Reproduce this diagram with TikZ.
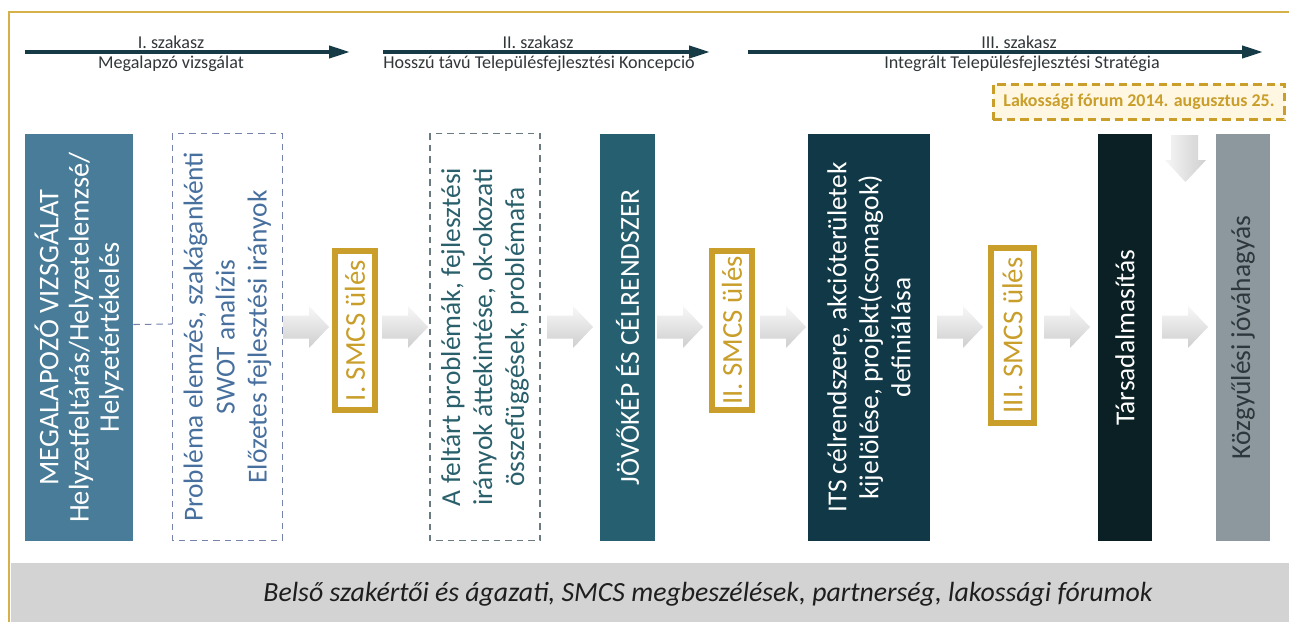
\documentclass[tikz,border=0pt]{standalone}
\usepackage{fontspec}
\setmainfont{Carlito}
\usetikzlibrary{arrows.meta}
\definecolor{framegold}{RGB}{214,176,72}
\definecolor{smcsgold}{RGB}{201,158,42}
\definecolor{lakfill}{RGB}{255,247,226}
\definecolor{phasecol}{RGB}{22,58,70}
\definecolor{cone}{RGB}{72,124,152}
\definecolor{cfour}{RGB}{38,96,112}
\definecolor{cfive}{RGB}{16,56,70}
\definecolor{csix}{RGB}{10,32,36}
\definecolor{cseven}{RGB}{140,152,158}
\definecolor{ctext}{RGB}{45,55,60}
\definecolor{dashblue}{RGB}{118,132,172}
\definecolor{dashgray}{RGB}{105,122,128}
\definecolor{txtblue}{RGB}{72,112,158}
\definecolor{txtteal}{RGB}{42,96,108}
\definecolor{bandgray}{RGB}{211,211,211}
\definecolor{bandtext}{RGB}{30,30,30}
\definecolor{toptext}{RGB}{50,55,58}
\newcommand\garrow[2]{%
  \shade[top color=gray!6, bottom color=gray!38]
    (#1,#2-11.5) -- (#1+26,#2-11.5) -- (#1+26,#2-21) -- (#1+46,#2)
    -- (#1+26,#2+21) -- (#1+26,#2+11.5) -- (#1,#2+11.5) -- cycle;}
\begin{document}
\begin{tikzpicture}[x=0.02cm,y=-0.02cm,
  phase/.style={draw=phasecol, line width=0.08cm, -{Triangle[length=0.42cm,width=0.24cm]}},
  toplbl/.style={font=\fontsize{10.3}{12}\selectfont, text=toptext, inner sep=0},
  vbox/.style={rotate=90, inner sep=0, align=center, font=\fontsize{15.6}{18.2}\selectfont},
  solidbox/.style={vbox, minimum width=8.14cm, text=white},
  dashbox/.style={vbox, minimum width=8.16cm, minimum height=2.19cm, line width=0.6pt, dash pattern=on 0.13cm off 0.1cm},
  smcs/.style={vbox, draw=smcsgold, line width=0.12cm, fill=white, text=smcsgold, minimum height=0.8cm, minimum width=3.18cm, font=\fontsize{16.4}{18}\selectfont},
  conn/.style={draw=dashblue, line width=0.6pt, dash pattern=on 0.13cm off 0.1cm}
]
\useasboundingbox (0,0) rectangle (1289,622);
\fill[white] (0,0) rectangle (1289,622);
% frame
\draw[framegold, line width=0.06cm] (9,622) -- (9,12) -- (1289,12);
% phases
\coordinate (pas) at (25,52);  \coordinate (pae) at (350,52);
\coordinate (pbs) at (383,52); \coordinate (pbe) at (710,52);
\coordinate (pcs) at (748,52); \coordinate (pce) at (1263,52);
\draw[phase] (pas) -- (pae);
\draw[phase] (pbs) -- (pbe);
\draw[phase] (pcs) -- (pce);
\node[toplbl] (la1) at (171,42) {I. szakasz};
\node[toplbl] (la2) at (171,64) {Megalapzó vizsgálat};
\node[toplbl] (lb1) at (538,42) {II. szakasz};
\node[toplbl] (lb2) at (539,64) {Hosszú távú Településfejlesztési Koncepció};
\node[toplbl] (lc1) at (1019,42) {III. szakasz};
\node[toplbl] (lc2) at (1022,64) {Integrált Településfejlesztési Stratégia};
% forum
\node[draw=smcsgold, fill=lakfill, line width=0.06cm, dash pattern=on 0.17cm off 0.1cm,
  minimum width=5.84cm, minimum height=0.72cm, inner sep=0, text=smcsgold,
  font=\fontsize{10.2}{12}\bfseries\selectfont] (lf) at (1139,102) {Lakossági fórum 2014. augusztus 25.};
% boxes
\node[solidbox, fill=cone, minimum height=2.16cm, font=\fontsize{16.2}{17.2}\selectfont] (b1) at (79,337.5)
  {MEGALAPOZÓ VIZSGÁLAT\\Helyzetfeltárás/Helyzetelemzsé/\\Helyzetértékelés};
\node[dashbox, draw=dashblue, text=txtblue] (b2) at (227.5,337)
  {Probléma elemzés, szakágankénti\\SWOT analízis\\Előzetes fejlesztési irányok};
\node[smcs] (s1) at (355,330.5) {I. SMCS ülés};
\node[dashbox, draw=dashgray, text=txtteal, minimum height=2.2cm] (b3) at (485,337)
  {A feltárt problémák, fejlesztési\\irányok áttekintése, ok-okozati\\összefüggések, problémafa};
\node[solidbox, fill=cfour, minimum height=1.1cm] (b4) at (627.5,337.5) {JÖVŐKÉP ÉS CÉLRENDSZER};
\node[smcs] (s2) at (732,330.5) {II. SMCS ülés};
\node[solidbox, fill=cfive, minimum height=2.44cm] (b5) at (869,337.5)
  {ITS célrendszere, akcióterületek\\kijelölése, projekt(csomagok)\\definiálása};
\node[smcs, minimum width=3.5cm, minimum height=0.86cm] (s3) at (1012.5,335.5) {III. SMCS ülés};
\node[solidbox, fill=csix, minimum height=1.08cm] (b6) at (1125,337.5) {Társadalmasítás};
\node[solidbox, fill=cseven, text=ctext, minimum height=1.08cm] (b7) at (1243,337.5) {Közgyűlési jóváhagyás};
% dashed link
\draw[conn] ([yshift=0.26cm]b1.south) -- ([yshift=0.26cm]b2.north);
% block arrows
\garrow{283}{327}
\garrow{382}{327}
\garrow{547}{327}
\garrow{657}{327}
\garrow{760}{327}
\garrow{937}{327}
\garrow{1044}{327}
\garrow{1162}{327}
\shade[left color=gray!6, right color=gray!38]
  (1171,135) -- (1198,135) -- (1198,160) -- (1206,160) -- (1185.5,182)
  -- (1165,160) -- (1171,160) -- cycle;
% bottom band
\fill[bandgray] (10.5,563) rectangle (1289,622);
\node[font=\fontsize{15.8}{18}\itshape\selectfont, text=bandtext] (band) at (708,594)
  {Belső szakértői és ágazati, SMCS megbeszélések, partnerség, lakossági fórumok};
\end{tikzpicture}
\end{document}
